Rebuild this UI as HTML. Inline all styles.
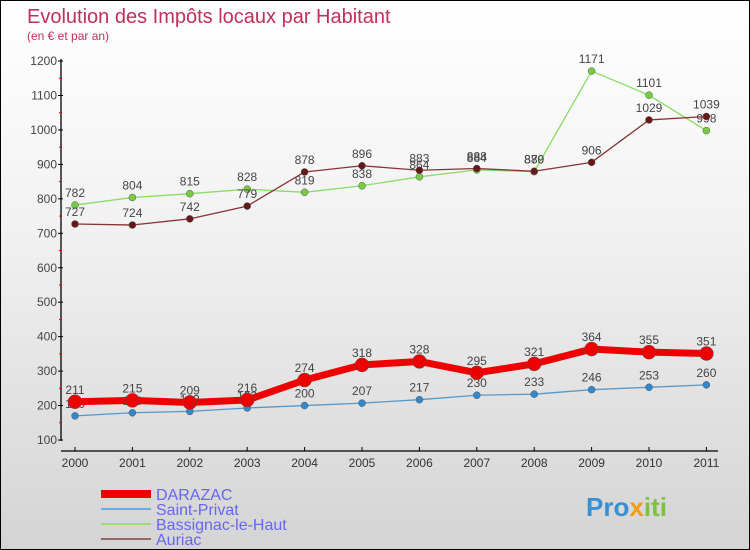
<!DOCTYPE html>
<html><head><meta charset="utf-8"><style>
body{margin:0}
#c{width:748px;height:548px;border:1px solid #000;background:linear-gradient(#fff,#f2f2f2 40%,#d4d4d4);position:relative;overflow:hidden;font-family:"Liberation Sans",sans-serif}
</style></head><body>
<div id="c">
<svg id="s" width="748" height="548" style="position:absolute;left:0;top:0" font-family="Liberation Sans, sans-serif">
<text x="26" y="22" font-size="20" fill="#c0305a">Evolution des Impôts locaux par Habitant</text>
<text x="26" y="39" font-size="12" fill="#c0305a">(en € et par an)</text>
<g><text x="585" y="515" font-size="26" font-weight="bold" fill="#3a8fd0">Pro<tspan fill="#f39c12">x</tspan><tspan fill="#7cc242">iti</tspan></text></g>
</svg>
</div>
<script>
const years=[2000,2001,2002,2003,2004,2005,2006,2007,2008,2009,2010,2011];
const darazac=[211,215,209,216,274,318,328,295,321,364,355,351];
const saintPrivat=[170,179,183,193,200,207,217,230,233,246,253,260];
const bassignac=[782,804,815,828,819,838,864,884,879,1171,1101,998];
const auriac=[727,724,742,779,878,896,883,888,880,906,1029,1039];
const yTicks=[100,200,300,400,500,600,700,800,900,1000,1100,1200];
const names=["DARAZAC","Saint-Privat","Bassignac-le-Haut","Auriac"];
const s=document.getElementById('s');const NS='http://www.w3.org/2000/svg';
function X(i){return 74+i*57.4}
function Y(v){return 439-(v-100)*0.3445}
function mk(t,a,p){const e=document.createElementNS(NS,t);for(const k in a)e.setAttribute(k,a[k]);(p||s).appendChild(e);return e}
const ax=mk('g',{});


mk('line',{x1:60,y1:58,x2:60,y2:440,stroke:'#000','stroke-width':1.3},ax);
mk('line',{x1:60,y1:450,x2:717,y2:450,stroke:'#000','stroke-width':1.3},ax);
yTicks.forEach(v=>{mk('line',{x1:57,x2:62,y1:Y(v),y2:Y(v),stroke:'#000'},ax);
if(v<1200)mk('line',{x1:58,x2:61,y1:Y(v+50),y2:Y(v+50),stroke:'#e00'},ax);
const t=mk('text',{x:56,y:Y(v)+4,'text-anchor':'end','font-size':12,fill:'#444'},ax);t.textContent=v;

});
years.forEach((y,i)=>{mk('line',{x1:X(i),x2:X(i),y1:446,y2:450,stroke:'#000'},ax);
const t=mk('text',{x:X(i),y:466,'text-anchor':'middle','font-size':12,fill:'#333'},ax);t.textContent=y;

});
function series(d,col,w,r,dot,nm){const g=mk('g',{});


mk('polyline',{points:d.map((v,i)=>X(i)+','+Y(v)).join(' '),fill:'none',stroke:col,'stroke-width':w,'stroke-linejoin':'round'},g);
d.forEach((v,i)=>{mk('circle',{cx:X(i),cy:Y(v),r:r,fill:dot,stroke:'#555','stroke-width':0.5},g);
const t=mk('text',{x:X(i),y:Y(v)-8,'text-anchor':'middle','font-size':12,fill:'#444'},g);t.textContent=v;});}
series(bassignac,'#88dd66',1.3,3.5,'#77cc44','series-bassignac');
series(auriac,'#883333',1.3,3.5,'#661818','series-auriac');
series(saintPrivat,'#5599cc',1.3,3.5,'#3388cc','series-saint-privat');
series(darazac,'#ee0000',7,7,'#ee0000','series-darazac');
const cols=['#ee0000','#6aaedc','#99dd77','#996666'],ws=[8,2,2,2];
names.forEach((n,i)=>{const y=493+i*15;const g=mk('g',{});


mk('line',{x1:100,x2:150,y1:y,y2:y,stroke:cols[i],'stroke-width':ws[i]},g);
const t=mk('text',{x:155,y:y+6,'font-size':16,fill:'#6666ee'},g);t.textContent=n;});
</script>
</body></html>
